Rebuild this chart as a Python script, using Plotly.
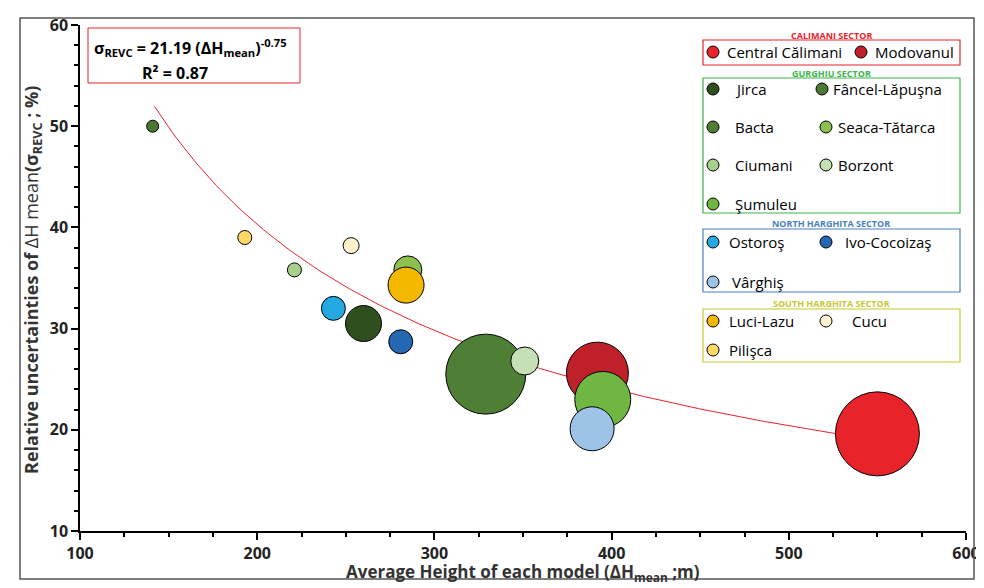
import numpy as np
import plotly.graph_objects as go

names = ["Central Călimani", "Modovanul", "Jirca", "Fâncel-Lăpuşna", "Bacta", "Seaca-Tătarca",
         "Ciumani", "Borzont", "Şumuleu", "Ostoroş", "Ivo-Cocoizaş", "Vârghiş",
         "Luci-Lazu", "Cucu", "Pilişca"]
height = [550, 392, 260, 141, 329, 285, 221, 351, 395, 243, 281, 389, 284, 253, 193]
uncert = [19.6, 25.6, 30.5, 50.0, 25.5, 35.8, 35.8, 26.8, 23.0, 32.0, 28.7, 20.1, 34.3, 38.2, 39.0]
sizes = [84, 62, 36, 12, 80, 28, 14, 28, 56, 24, 24, 44, 36, 16, 14]
colors = ["#e8232a", "#c0202a", "#2f4f1f", "#4a7a32", "#4f7f35", "#8cc04f",
          "#a8d08d", "#c5e0b4", "#70b643", "#23a8e0", "#2368b0", "#9dc3e6",
          "#f5b800", "#fff2cc", "#ffd966"]
x_ticks = [100, 200, 300, 400, 500, 600]
y_ticks = [10, 20, 30, 40, 50, 60]

# power trend line fitted to the drawn curve
fit_a, fit_b = 2065.0, -0.743
xs = np.linspace(142, 550, 200)

fig = go.Figure()
fig.add_scatter(x=xs, y=fit_a * xs ** fit_b, mode="lines", line=dict(color="#e8232a", width=1),
                showlegend=False, hoverinfo="skip")
fig.add_scatter(x=height, y=uncert, mode="markers", text=names, showlegend=False,
                marker=dict(size=sizes, color=colors, line=dict(color="black", width=1), opacity=1))

W, H = 886, 506  # plot area in px (screen coords)
def px(xp): return (xp - 80) / W
def py(yp): return (531 - yp) / H

def note(xp, yp, text, size, color="black", xanchor="center", angle=0):
    return dict(xref="paper", yref="paper", x=px(xp), y=py(yp), xanchor=xanchor, yanchor="middle",
                showarrow=False, text=text, textangle=angle, font=dict(size=size, color=color))

shapes = [dict(type="rect", xref="paper", yref="paper", x0=px(20), x1=px(974), y0=py(579), y1=py(18),
               line=dict(color="#555", width=1.5))]
ann = []

# axis titles
ann.append(note(523, 572, "<b>Average Height of each model (ΔH<sub>mean</sub> ;m)</b>", 17, "#333"))
ann.append(note(32, 280, "<b>Relative uncertainties of</b> ΔH mean<b>(σ<sub>REVC</sub> ; %)</b>", 18, "#333",
                angle=-90))

# equation box
shapes.append(dict(type="rect", xref="paper", yref="paper", x0=px(88), x1=px(300), y0=py(83), y1=py(28),
                   line=dict(color="#e8232a", width=1)))
ann.append(note(92, 48, "<b>σ<sub>REVC</sub> = 21.19 (ΔH<sub>mean</sub>)<sup>-0.75</sup></b>", 16,
                xanchor="left"))
ann.append(note(140, 73, "<b>R² = 0.87</b>", 16, xanchor="left"))

# legend
groups = [("CALIMANI SECTOR", "#e8232a", 40, 65),
          ("GURGHIU SECTOR", "#3cb44b", 78, 213),
          ("NORTH HARGHITA SECTOR", "#4a7fc1", 229, 292),
          ("SOUTH HARGHITA SECTOR", "#c8c832", 309, 362)]
for title, col, y0, y1 in groups:
    ann.append(note(831, y0 - 5, "<b>" + title + "</b>", 9, col))
    shapes.append(dict(type="rect", xref="paper", yref="paper", x0=px(703), x1=px(960), y0=py(y1), y1=py(y0),
                       line=dict(color=col, width=1.2)))
entries = [(0, 713, 725, 52), (1, 861, 873, 52),
           (2, 713, 733, 89), (3, 822, 831, 89),
           (4, 713, 733, 127), (5, 826, 836, 127),
           (6, 713, 733, 165), (7, 826, 836, 165),
           (8, 713, 733, 204),
           (9, 713, 727, 242), (10, 826, 843, 242),
           (11, 713, 730, 282),
           (12, 713, 727, 321), (13, 826, 850, 321),
           (14, 713, 727, 350)]
for i, cx, tx, yy in entries:
    shapes.append(dict(type="circle", xref="paper", yref="paper", xsizemode="pixel", ysizemode="pixel",
                       xanchor=px(cx), yanchor=py(yy), x0=-6, x1=6, y0=-6, y1=6,
                       fillcolor=colors[i], line=dict(color="black", width=1)))
    ann.append(note(tx, yy, names[i], 15, xanchor="left"))

axis = dict(showline=True, linecolor="black", linewidth=1.5, ticks="outside", ticklen=7, tickwidth=1.5,
            tickcolor="black", showgrid=False, zeroline=False, mirror=False, automargin=False,
            tickfont=dict(size=16, color="#222"),
            minor=dict(ticks="outside", ticklen=4, tickcolor="black", showgrid=False))
fig.update_xaxes(axis, range=[100, 600], tickvals=x_ticks, ticktext=[f"<b>{v}</b>" for v in x_ticks],
                 minor_dtick=25)
fig.update_yaxes(axis, range=[10, 60], tickvals=y_ticks, ticktext=[f"<b>{v}</b>" for v in y_ticks],
                 minor_dtick=2)
fig.update_layout(width=976, height=580, margin=dict(l=72, r=18, t=17, b=57),
                  paper_bgcolor="white", plot_bgcolor="white", font=dict(family="Open Sans"),
                  shapes=shapes, annotations=ann)
fig.write_html("out.html")
